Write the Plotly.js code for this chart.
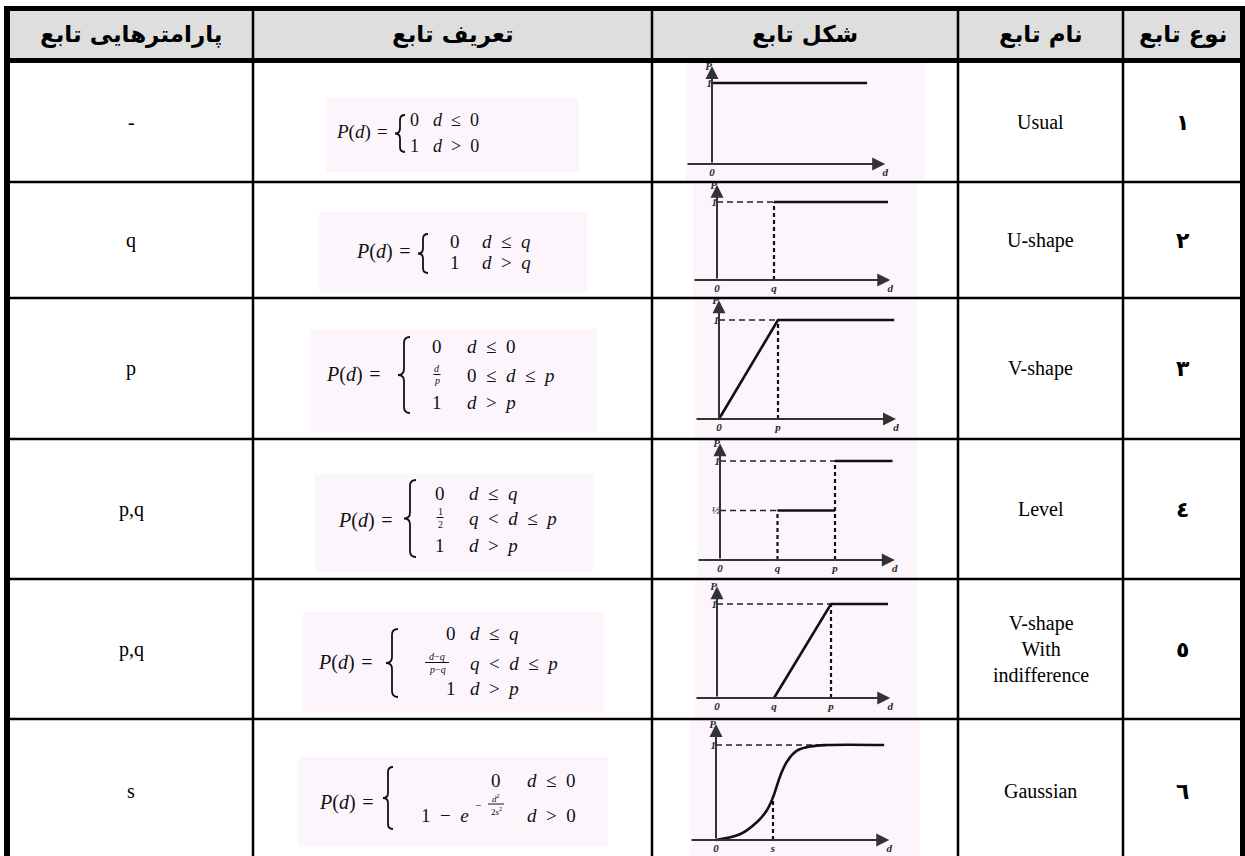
<!DOCTYPE html>
<html><head><meta charset="utf-8">
<script src="https://cdn.plot.ly/plotly-3.0.1.min.js"></script>
<style>html,body{margin:0;padding:0;background:#fff}#chart{width:1245px;height:856px}</style>
</head><body><div id="chart"></div>
<script>
// ================= DATA =================
const headers = ['پارامترهایی تابع', 'تعریف تابع', 'شکل تابع', 'نام تابع', 'نوع تابع'];
const typeNumbers = ['١', '٢', '٣', '٤', '٥', '٦'];
const functionNames = ['Usual', 'U-shape', 'V-shape', 'Level', 'V-shape<br>With<br>indifference', 'Gaussian'];
const parameters = ['-', 'q', 'p', 'p,q', 'p,q', 's'];

// formula cases: [value, condition]
const formulaCases = [
  [['0', '<i>d</i> ≤ 0'], ['1', '<i>d</i> &gt; 0']],
  [['0', '<i>d</i> ≤ <i>q</i>'], ['1', '<i>d</i> &gt; <i>q</i>']],
  [['0', '<i>d</i> ≤ 0'], [{num: '<i>d</i>', den: '<i>p</i>'}, '0 ≤ <i>d</i> ≤ <i>p</i>'], ['1', '<i>d</i> &gt; <i>p</i>']],
  [['0', '<i>d</i> ≤ <i>q</i>'], [{num: '1', den: '2'}, '<i>q</i> &lt; <i>d</i> ≤ <i>p</i>'], ['1', '<i>d</i> &gt; <i>p</i>']],
  [['0', '<i>d</i> ≤ <i>q</i>'], [{num: '<i>d</i>−<i>q</i>', den: '<i>p</i>−<i>q</i>'}, '<i>q</i> &lt; <i>d</i> ≤ <i>p</i>'], ['1', '<i>d</i> &gt; <i>p</i>']],
  [['0', '<i>d</i> ≤ 0'], [{base: '1 − <i>e</i>', sign: '−', num: '<i>d</i><sup>2</sup>', den: '2<i>s</i><sup>2</sup>'}, '<i>d</i> &gt; 0']]
];
const formulaLeft = '<i>P</i>(<i>d</i>) =';

// ---- shape plots (x in units of q / p / s, y = P) ----
// 1 Usual
const usualLineX = [0, 3], usualLineY = [1, 1];
const usualTickX = [0, 3.35], usualTickXText = ['0', 'd'];
const usualTickY = [1, 1.21], usualTickYText = ['1', 'P'];
// 2 U-shape
const uLineX = [1, 3], uLineY = [1, 1];
const uDashHX = [0, 1], uDashHY = [1, 1];
const uDashVX = [1, 1], uDashVY = [0, 1];
const uTickX = [0, 1, 3.04], uTickXText = ['0', 'q', 'd'];
const uTickY = [1, 1.22], uTickYText = ['1', 'P'];
// 3 V-shape
const vLineX = [0, 1, 2.97], vLineY = [0, 1, 1];
const vDashHX = [0, 1], vDashHY = [1, 1];
const vDashVX = [1, 1], vDashVY = [0, 1];
const vTickX = [0, 1, 3.0], vTickXText = ['0', 'p', 'd'];
const vTickY = [1, 1.2], vTickYText = ['1', 'P'];
// 4 Level
const levelLowX = [1, 2], levelLowY = [0.5, 0.5];
const levelHighX = [2, 3], levelHighY = [1, 1];
const levelDashH1X = [0, 1], levelDashH1Y = [0.5, 0.5];
const levelDashH2X = [0, 2], levelDashH2Y = [1, 1];
const levelDashV1X = [1, 1], levelDashV1Y = [0, 0.5];
const levelDashV2X = [2, 2], levelDashV2Y = [0, 1];
const levelTickX = [0, 1, 2, 3.04], levelTickXText = ['0', 'q', 'p', 'd'];
const levelTickY = [0.5, 1, 1.18], levelTickYText = ['½', '1', 'P'];
// 5 V-shape with indifference
const vIndLineX = [1, 2, 3], vIndLineY = [0, 1, 1];
const vIndDashHX = [0, 2], vIndDashHY = [1, 1];
const vIndDashVX = [2, 2], vIndDashVY = [0, 1];
const vIndTickX = [0, 1, 2, 3.04], vIndTickXText = ['0', 'q', 'p', 'd'];
const vIndTickY = [1, 1.19], vIndTickYText = ['1', 'P'];
// 6 Gaussian
const gaussX = [0, 0.42, 0.72, 0.89, 1.0, 1.13, 1.25, 1.42, 1.66, 1.95, 2.95];
const gaussY = [0, 0.06, 0.19, 0.31, 0.45, 0.68, 0.83, 0.94, 0.985, 1, 1];
const gaussDashVX = [1, 1], gaussDashVY = [0, 0.45];
const gaussDashHX = [0, 2.65], gaussDashHY = [1, 1];
const gaussTickX = [0, 1, 3.04], gaussTickXText = ['0', 's', 'd'];
const gaussTickY = [1, 1.22], gaussTickYText = ['1', 'P'];

// ================= LAYOUT GEOMETRY =================
const W = 1245, H = 856;
const px = x => x / W, py = y => 1 - y / H;
const COL_LINES = [253, 652, 958, 1123];
const COL_CENTERS = [131, 452.5, 805, 1040.5, 1182.5];
const ROW_LINES = [182, 298, 439, 579, 719];
const ROW_CENTERS = [122, 240, 368, 509, 649, 791];
const SERIF = 'Liberation Serif, Times New Roman, serif';
const PERSIAN = 'DejaVu Sans, Noto Sans, sans-serif';
const INK = '#111';
const PINK = '#fcf6fc';
const EN = '\u2002';
const spaced = s => s.replace(/ /g, EN);

const GRAPH_GEOM = [
  {box: [686, 925, 63, 182], origin: [712, 164], unit: [51.7, 81]},
  {box: [693, 917, 183, 297], origin: [717, 280], unit: [57, 78]},
  {box: [695, 917, 299, 438], origin: [719, 419], unit: [59, 99]},
  {box: [697, 917, 440, 578], origin: [720, 560], unit: [57.5, 99]},
  {box: [695, 917, 580, 718], origin: [717, 698], unit: [57, 94]},
  {box: [690, 920, 720, 856], origin: [716, 840], unit: [57, 95]}
];
const FORMULA_GEOM = [
  {box: [326, 579, 98, 172], fs: 18, pdRight: 390, pdY: 132, brace: [400, 115, 152], valX: 414, valAnchor: 'center', lines: [120, 146], condX: 431},
  {box: [319, 587, 212, 293], fs: 19, pdRight: 413, pdY: 252, brace: [423, 234, 273], valX: 455, valAnchor: 'center', lines: [242, 262], condX: 480},
  {box: [310, 597, 329, 433], fs: 19, pdRight: 383, pdY: 374, brace: [404, 337, 413], valX: 437, valAnchor: 'center', lines: [346, 375, 402], condX: 465},
  {box: [315, 593, 474, 572], fs: 19, pdRight: 395, pdY: 520, brace: [410, 480, 557], valX: 440, valAnchor: 'center', lines: [493, 518, 545], condX: 467},
  {box: [303, 604, 612, 713], fs: 19, pdRight: 375, pdY: 662, brace: [392, 629, 697], valX: 458, valAnchor: 'right', fracX: 437, lines: [633, 663, 688], condX: 468},
  {box: [298, 608, 757, 847], fs: 19, pdRight: 376, pdY: 802, brace: [388, 767, 829], valX: 503, valAnchor: 'right', lines: [780, 815], condX: 525, expo: {baseRight: 471, signX: 478, fracX: 496}}
];

// ================= GRAPH TRACES =================
const graphs = [
  {solid: [[usualLineX, usualLineY]], dashH: [], dashV: [], tx: [usualTickX, usualTickXText], ty: [usualTickY, usualTickYText]},
  {solid: [[uLineX, uLineY]], dashH: [[uDashHX, uDashHY]], dashV: [[uDashVX, uDashVY]], tx: [uTickX, uTickXText], ty: [uTickY, uTickYText]},
  {solid: [[vLineX, vLineY]], dashH: [[vDashHX, vDashHY]], dashV: [[vDashVX, vDashVY]], tx: [vTickX, vTickXText], ty: [vTickY, vTickYText]},
  {solid: [[levelLowX, levelLowY], [levelHighX, levelHighY]], dashH: [[levelDashH1X, levelDashH1Y], [levelDashH2X, levelDashH2Y]],
   dashV: [[levelDashV1X, levelDashV1Y], [levelDashV2X, levelDashV2Y]], tx: [levelTickX, levelTickXText], ty: [levelTickY, levelTickYText]},
  {solid: [[vIndLineX, vIndLineY]], dashH: [[vIndDashHX, vIndDashHY]], dashV: [[vIndDashVX, vIndDashVY]], tx: [vIndTickX, vIndTickXText], ty: [vIndTickY, vIndTickYText]},
  {solid: [[gaussX, gaussY]], spline: true, dashH: [[gaussDashHX, gaussDashHY]], dashV: [[gaussDashVX, gaussDashVY]], tx: [gaussTickX, gaussTickXText], ty: [gaussTickY, gaussTickYText]}
];

const traces = [];
const layout = {
  width: W, height: H, margin: {l: 0, r: 0, t: 0, b: 0},
  paper_bgcolor: '#fff', plot_bgcolor: 'rgba(0,0,0,0)', showlegend: false,
  shapes: [], annotations: []
};

graphs.forEach((g, i) => {
  const G = GRAPH_GEOM[i];
  const sfx = i === 0 ? '' : String(i + 1);
  const xa = 'x' + sfx, ya = 'y' + sfx;
  const [bx0, bx1, by0, by1] = G.box, [ox, oy] = G.origin, [ux, uy] = G.unit;
  const xr = [(bx0 - ox) / ux, (bx1 - ox) / ux];
  const yr = [(oy - by1) / uy, (oy - by0) / uy];
  const tickFont = {family: SERIF, size: 11, color: '#2a2a2a'};
  layout['xaxis' + sfx] = {
    domain: [px(bx0), px(bx1)], range: xr, anchor: 'free', position: py(oy),
    showgrid: false, zeroline: false, showline: false, ticks: '', fixedrange: true,
    tickmode: 'array', tickvals: g.tx[0], ticktext: g.tx[1].map(t => '<b><i>' + t + '</i></b>'), tickfont: tickFont
  };
  layout['yaxis' + sfx] = {
    domain: [py(by1), py(by0)], range: yr, anchor: 'free', position: px(ox),
    showgrid: false, zeroline: false, showline: false, ticks: '', fixedrange: true,
    tickmode: 'array', tickvals: g.ty[0], ticktext: g.ty[1].map(t => '<b><i>' + t + '</i></b>'), tickfont: tickFont
  };
  layout.shapes.push({type: 'rect', xref: 'paper', yref: 'paper', x0: px(bx0), x1: px(bx1), y0: py(by1), y1: py(by0),
    fillcolor: PINK, line: {width: 0}, layer: 'below'});
  const xTip = g.tx[0][g.tx[0].length - 1], yTip = g.ty[0][g.ty[0].length - 1];
  layout.annotations.push({xref: xa, yref: ya, axref: xa, ayref: ya, x: xTip, y: 0, ax: xr[0], ay: 0, text: '',
    showarrow: true, arrowhead: 2, arrowsize: 1.3, arrowwidth: 2, arrowcolor: '#333'});
  layout.annotations.push({xref: xa, yref: ya, axref: xa, ayref: ya, x: 0, y: yTip, ax: 0, ay: 0, text: '',
    showarrow: true, arrowhead: 2, arrowsize: 1.3, arrowwidth: 2, arrowcolor: '#333'});
  g.dashH.forEach(([x, y]) => traces.push({type: 'scatter', mode: 'lines', x, y, xaxis: xa, yaxis: ya, hoverinfo: 'skip',
    line: {color: '#222', width: 1.6, dash: '6px,4px'}}));
  g.dashV.forEach(([x, y]) => traces.push({type: 'scatter', mode: 'lines', x, y, xaxis: xa, yaxis: ya, hoverinfo: 'skip',
    line: {color: '#111', width: 2.2, dash: '4px,3px'}}));
  g.solid.forEach(([x, y]) => traces.push({type: 'scatter', mode: 'lines', x, y, xaxis: xa, yaxis: ya, hoverinfo: 'skip',
    line: {color: INK, width: 2.6, shape: g.spline ? 'spline' : 'linear', smoothing: 1}}));
});

// ================= TABLE =================
const S = layout.shapes, A = layout.annotations;
S.unshift({type: 'rect', xref: 'paper', yref: 'paper', x0: px(4), x1: px(1245), y0: py(63), y1: py(6),
  fillcolor: '#dedede', line: {width: 0}, layer: 'below'});
function hline(y, w) { S.push({type: 'line', xref: 'paper', yref: 'paper', x0: px(4), x1: px(1245), y0: py(y), y1: py(y), line: {color: '#000', width: w}}); }
function vline(x, w) { S.push({type: 'line', xref: 'paper', yref: 'paper', x0: px(x), x1: px(x), y0: py(6), y1: py(H), line: {color: '#000', width: w}}); }
hline(8.5, 5); hline(60.5, 5);
ROW_LINES.forEach(y => hline(y, 2.5));
COL_LINES.forEach(x => vline(x, 2.5));
vline(7, 6); vline(1242.5, 5);

headers.forEach((h, i) => A.push({xref: 'paper', yref: 'paper', x: px(COL_CENTERS[i]), y: py(35), text: '<b>' + h + '</b>',
  showarrow: false, xanchor: 'center', yanchor: 'middle', font: {family: PERSIAN, size: 23, color: '#000'}}));
typeNumbers.forEach((t, r) => A.push({xref: 'paper', yref: 'paper', x: px(COL_CENTERS[4]), y: py(ROW_CENTERS[r]), text: '<b>' + t + '</b>',
  showarrow: false, xanchor: 'center', yanchor: 'middle', font: {family: PERSIAN, size: 22, color: '#000'}}));
functionNames.forEach((t, r) => A.push({xref: 'paper', yref: 'paper', x: px(COL_CENTERS[3]), y: py(ROW_CENTERS[r]), text: t,
  showarrow: false, xanchor: 'center', yanchor: 'middle', font: {family: SERIF, size: 20, color: '#000'}}));
parameters.forEach((t, r) => A.push({xref: 'paper', yref: 'paper', x: px(COL_CENTERS[0]), y: py(ROW_CENTERS[r]), text: t,
  showarrow: false, xanchor: 'center', yanchor: 'middle', font: {family: SERIF, size: 20, color: '#000'}}));

// ================= FORMULAS =================
function txt(x, y, text, anchor, size) {
  A.push({xref: 'paper', yref: 'paper', x: px(x), y: py(y), text, showarrow: false, xanchor: anchor, yanchor: 'middle',
    font: {family: SERIF, size, color: INK}});
}
function bar(cx, y, w) {
  S.push({type: 'line', xref: 'paper', yref: 'paper', x0: px(cx - w / 2), x1: px(cx + w / 2), y0: py(y), y1: py(y), line: {color: INK, width: 1}});
}
function bracePath(cx, y0, y1, w) {
  const ym = (y0 + y1) / 2, r = Math.min(w, (y1 - y0) / 7);
  const P = (x, y) => px(x) + ',' + py(y);
  return 'M' + P(cx + w, y0) + ' Q' + P(cx, y0) + ' ' + P(cx, y0 + r) + ' L' + P(cx, ym - r) +
    ' Q' + P(cx, ym) + ' ' + P(cx - w, ym) + ' Q' + P(cx, ym) + ' ' + P(cx, ym + r) +
    ' L' + P(cx, y1 - r) + ' Q' + P(cx, y1) + ' ' + P(cx + w, y1);
}
formulaCases.forEach((cases, r) => {
  const F = FORMULA_GEOM[r];
  S.push({type: 'rect', xref: 'paper', yref: 'paper', x0: px(F.box[0]), x1: px(F.box[1]), y0: py(F.box[3]), y1: py(F.box[2]),
    fillcolor: PINK, line: {width: 0}, layer: 'below'});
  txt(F.pdRight, F.pdY, formulaLeft.replace(' ', '\u2004'), 'right', F.fs + 1);
  S.push({type: 'path', xref: 'paper', yref: 'paper', path: bracePath(F.brace[0], F.brace[1], F.brace[2], cases.length > 2 ? 6 : 5),
    line: {color: INK, width: 1.8}});
  cases.forEach(([val, cond], k) => {
    const y = F.lines[k];
    if (typeof val === 'string') {
      txt(F.valX, y, val, F.valAnchor, F.fs);
    } else if (val.base) {
      const E = F.expo;
      txt(E.baseRight, y, spaced(val.base), 'right', F.fs);
      txt(E.signX, y - 10, val.sign, 'center', 11);
      txt(E.fracX, y - 17, val.num, 'center', 9);
      txt(E.fracX, y - 4, val.den, 'center', 9);
      bar(E.fracX, y - 11, 16);
    } else {
      const fx = F.fracX || F.valX;
      const w = val.num.length > 12 ? 24 : 7;
      txt(fx, y - 7, val.num, 'center', 10);
      txt(fx, y + 6, val.den, 'center', 10);
      bar(fx, y - 0.5, w);
    }
    txt(F.condX, y, spaced(cond), 'left', F.fs);
  });
});

Plotly.newPlot('chart', traces, layout, {displayModeBar: false, staticPlot: true});
</script>
</body></html>
